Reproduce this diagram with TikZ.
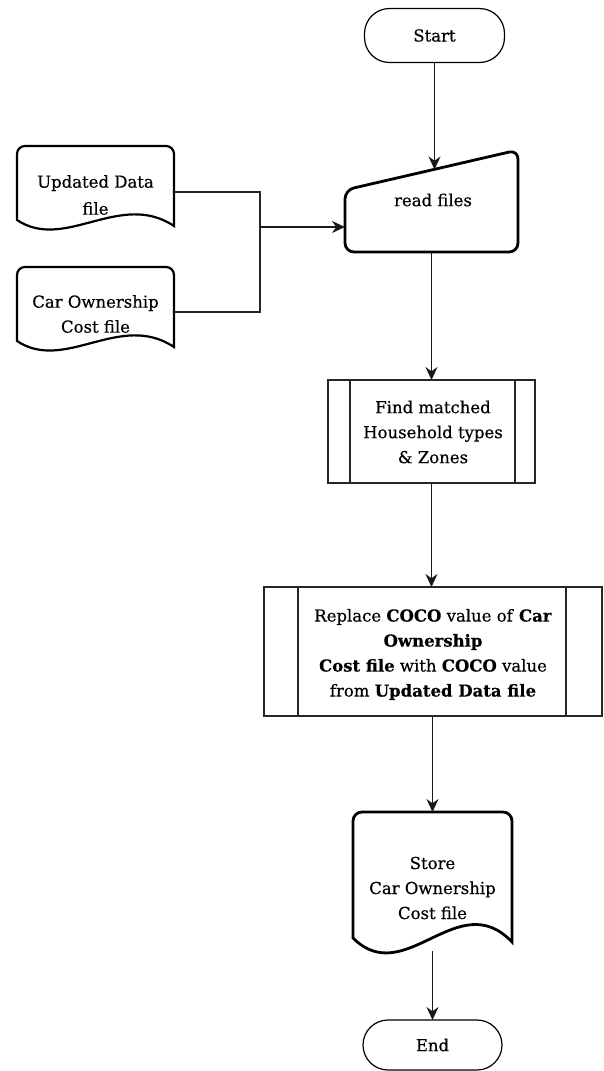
\documentclass[tikz,border=0pt]{standalone}
\usepackage{fontspec}
\setmainfont{DejaVu Serif}[FakeBold=0.5, BoldFeatures={FakeBold=0.3}]
\usetikzlibrary{arrows.meta,calc}
\begin{document}
\begin{tikzpicture}[x=1pt,y=-1pt,
  every node/.style={inner sep=0pt, outer sep=0pt},
  txt/.style={font=\fontsize{16.5}{25}\selectfont, align=center, text=black},
  terminal/.style={rectangle, rounded corners=25pt, draw=black, line width=1.2pt,
    font=\fontsize{16.5}{25}\selectfont},
  subproc/.style={rectangle, draw=black!85, line width=1.2pt, align=center},
  flow/.style={draw=black!90, line width=1.3pt, -{Stealth[length=13pt,width=12pt]}},
  plain/.style={draw=black!85, line width=1.2pt},
  doc/.style={draw=black, line width=2.2pt},
  heavy/.style={draw=black, line width=2.8pt}
]
\useasboundingbox (0,0) rectangle (604,1071);

% terminals
\node[terminal, minimum width=140pt, minimum height=54pt] (start) at (434.5,35.5) {Start};
\node[terminal, minimum width=139pt, minimum height=50pt] (stop) at (432.5,1045) {End};

% manual input: read files
\node[rectangle, minimum width=173pt, minimum height=102pt] (rf) at (431.5,201) {};
\draw[heavy, rounded corners=9pt] (rf.south west) -- ($(rf.north west)+(0,40)$)
  -- (rf.north east) -- (rf.south east) -- cycle;
\node[txt] (rft) at (433,200) {read files};
\coordinate (rfin) at (434.5,169.5);
\coordinate (rfleft) at ($(rf.west)+(0,26)$);

% input documents
\node[rectangle, minimum width=157pt, minimum height=74pt] (upd) at (95.5,183) {};
\draw[doc] (upd.south west) {[rounded corners=8pt] -- (upd.north west) -- (upd.north east)}
  -- ($(upd.south east)+(0,6)$) .. controls (120,190) and (65,252) .. cycle;
\node[txt, font=\fontsize{16.5}{27}\selectfont] (updt) at (95.5,195) {Updated Data\\file};

\node[rectangle, minimum width=157pt, minimum height=74pt] (cost) at (95.5,304) {};
\draw[doc] (cost.south west) {[rounded corners=8pt] -- (cost.north west) -- (cost.north east)}
  -- ($(cost.south east)+(0,6)$) .. controls (120,311) and (65,373) .. cycle;
\node[txt] (costt) at (95.5,314) {Car Ownership\\Cost file};

% predefined processes
\node[subproc, minimum width=207pt, minimum height=103pt] (match) at (431.5,431.5) {};
\draw[plain] ($(match.north west)+(22,0)$) -- ($(match.south west)+(22,0)$);
\draw[plain] ($(match.north east)+(-20,0)$) -- ($(match.south east)+(-20,0)$);
\node[txt] (matcht) at (433,432) {Find matched\\Household types\\\& Zones};

\node[subproc, minimum width=338pt, minimum height=129pt] (repl) at (433,651.5) {};
\draw[plain] ($(repl.north west)+(34,0)$) -- ($(repl.south west)+(34,0)$);
\draw[plain] ($(repl.north east)+(-36,0)$) -- ($(repl.south east)+(-36,0)$);
\node[txt] (replt) at (433,654.5) {Replace \textbf{COCO} value of \textbf{Car}\\
  \textbf{Ownership}\\\textbf{Cost file} with \textbf{COCO} value\\
  from \textbf{Updated Data file}};

% output document
\node[rectangle, minimum width=159pt, minimum height=126pt] (store) at (432.5,875) {};
\draw[heavy] (store.south west) {[rounded corners=9pt] -- (store.north west) -- (store.north east)}
  -- ($(store.south east)+(0,4)$) .. controls (458,885) and (405,990) .. cycle;
\node[txt] (storet) at (432.5,888) {Store\\Car Ownership\\Cost file};
\coordinate (storeout) at (432.5,951);

% connectors
\coordinate (join) at (260,227);
\draw[plain] (upd.east |- 0,192) -| (join) |- (cost.east |- 0,312);
\draw[flow] (join) -- (rfleft);
\draw[flow] (start.south) -- (rfin);
\draw[flow] (rf.south -| match.north) -- (match.north);
\draw[flow] (match.south) -- (match.south |- repl.north);
\draw[flow] (repl.south -| store.north) -- (store.north);
\draw[flow] (storeout) -- (stop.north);
\end{tikzpicture}
\end{document}
